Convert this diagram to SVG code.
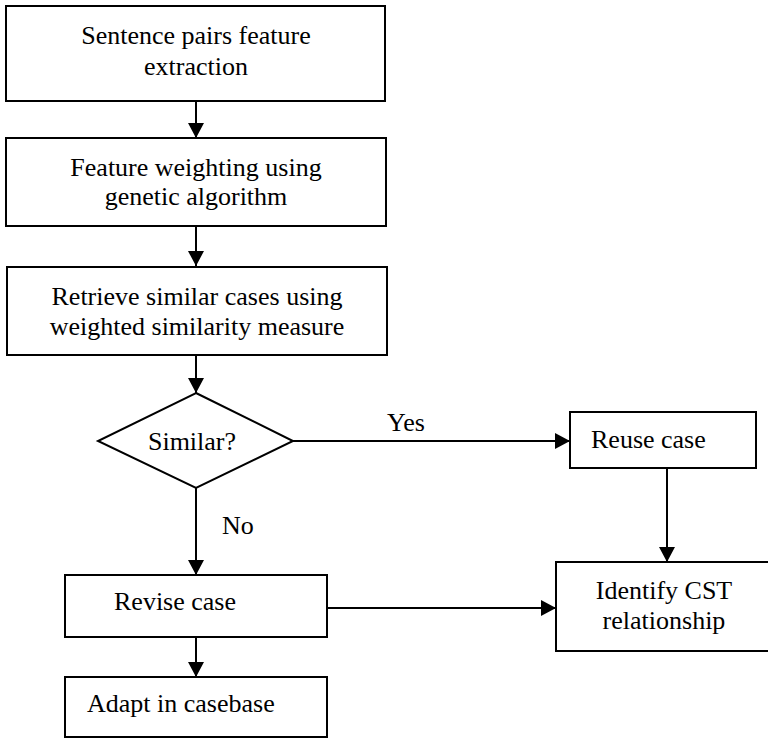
<svg xmlns="http://www.w3.org/2000/svg" width="768" height="742" viewBox="0 0 768 742" font-family="'Liberation Serif', 'Times New Roman', 'DejaVu Serif', serif">
  <style>
    .box { fill: #ffffff; stroke: #000000; stroke-width: 2; }
    .lbl { font-family: 'Liberation Serif', 'Times New Roman', 'DejaVu Serif', serif; font-size: 26px; fill: #000000; }
    .mid { text-anchor: middle; }
    .edge { fill: none; stroke: #000000; stroke-width: 2; }
  </style>
  <defs>
    <marker id="arrow" viewBox="0 0 15 16" refX="15" refY="8" markerWidth="15" markerHeight="16" markerUnits="userSpaceOnUse" orient="auto">
      <path d="M0,0 L15,8 L0,16 Z" fill="#000000"/>
    </marker>
  </defs>
  <rect width="768" height="742" fill="#ffffff"/>

  <!-- arrows between steps, plus the branch labels of the decision -->
  <g id="connectors">
    <line class="edge" x1="196" y1="101" x2="196" y2="138" marker-end="url(#arrow)"/>
    <line class="edge" x1="196" y1="226" x2="196" y2="266" marker-end="url(#arrow)"/>
    <line class="edge" x1="196" y1="356" x2="196" y2="393" marker-end="url(#arrow)"/>
    <line class="edge" x1="293" y1="441" x2="570" y2="441" marker-end="url(#arrow)"/>
    <line class="edge" x1="196" y1="488" x2="196" y2="575" marker-end="url(#arrow)"/>
    <line class="edge" x1="667" y1="468" x2="667" y2="562" marker-end="url(#arrow)"/>
    <line class="edge" x1="327" y1="608" x2="556" y2="608" marker-end="url(#arrow)"/>
    <line class="edge" x1="196" y1="638" x2="196" y2="677" marker-end="url(#arrow)"/>
    <text class="lbl" x="387" y="431">Yes</text>
    <text class="lbl" x="222" y="534">No</text>
  </g>

  <g id="feature-extraction">
    <rect class="box" x="6" y="6" width="379" height="95"/>
    <text class="lbl mid" x="196" y="44">Sentence pairs feature</text>
    <text class="lbl mid" x="196" y="75">extraction</text>
  </g>

  <g id="feature-weighting">
    <rect class="box" x="6" y="138" width="380" height="88"/>
    <text class="lbl mid" x="196" y="176">Feature weighting using</text>
    <text class="lbl mid" x="196" y="205">genetic algorithm</text>
  </g>

  <g id="retrieve-cases">
    <rect class="box" x="7" y="267" width="380" height="88"/>
    <text class="lbl mid" x="197" y="305">Retrieve similar cases using</text>
    <text class="lbl mid" x="197" y="335">weighted similarity measure</text>
  </g>

  <g id="similar-decision">
    <polygon class="box" points="196,393 293,441 196,488 98,441"/>
    <text class="lbl mid" x="192" y="450">Similar?</text>
  </g>

  <g id="reuse-case">
    <rect class="box" x="570" y="412" width="186" height="56"/>
    <text class="lbl" x="591" y="448">Reuse case</text>
  </g>

  <!-- this box runs past the right edge of the canvas -->
  <g id="identify-cst">
    <rect class="box" x="556" y="562" width="216" height="89"/>
    <text class="lbl mid" x="664" y="599">Identify CST</text>
    <text class="lbl mid" x="664" y="629">relationship</text>
  </g>

  <g id="revise-case">
    <rect class="box" x="65" y="575" width="262" height="62"/>
    <text class="lbl" x="114" y="610">Revise case</text>
  </g>

  <g id="adapt-casebase">
    <rect class="box" x="65" y="677" width="262" height="60"/>
    <text class="lbl" x="87" y="712">Adapt in casebase</text>
  </g>
</svg>
